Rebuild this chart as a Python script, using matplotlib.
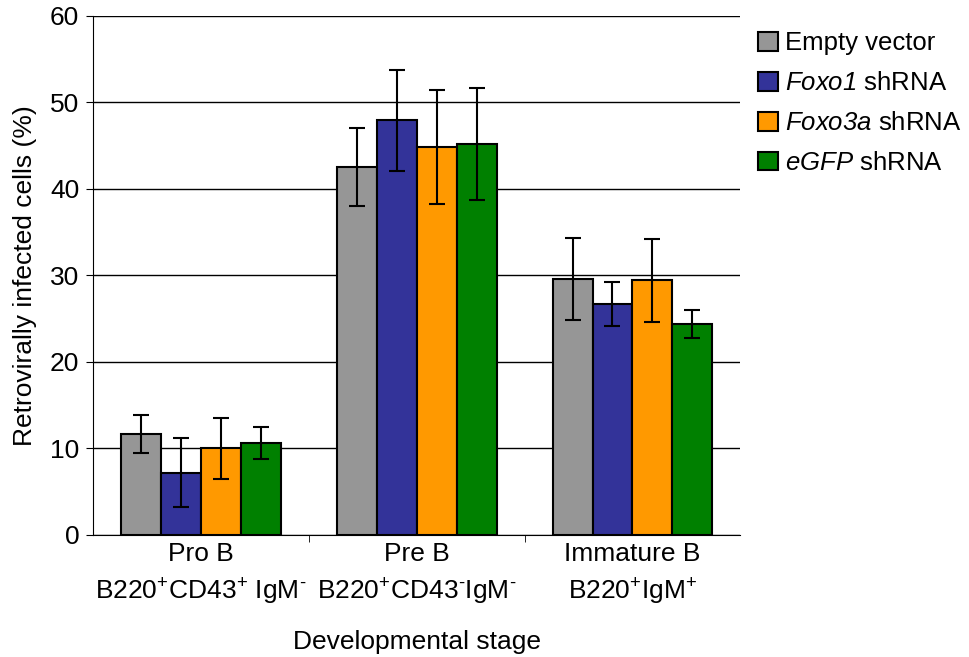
import numpy as np
import matplotlib
matplotlib.use("Agg")
import matplotlib.pyplot as plt

plt.rcParams['font.family'] = ['Liberation Sans', 'DejaVu Sans']
plt.rcParams['mathtext.fontset'] = 'custom'
plt.rcParams['mathtext.rm'] = 'Liberation Sans'
plt.rcParams['mathtext.sf'] = 'Liberation Sans:italic'

# data
sup_p = "$\\mathregular{^{+}}$"
sup_m = "$\\mathregular{^{\u2010}}$"
stages = ["Pro B\nB220" + sup_p + "CD43" + sup_p + " IgM" + sup_m,
          "Pre B\nB220" + sup_p + "CD43" + sup_m + "IgM" + sup_m,
          "Immature B\nB220" + sup_p + "IgM" + sup_p]
series = ["Empty vector", "$\\mathsf{Foxo1}$ shRNA", "$\\mathsf{Foxo3a}$ shRNA", "$\\mathsf{eGFP}$ shRNA"]
empty_vec = [11.7, 42.5, 29.6]
empty_err = [2.2, 4.5, 4.75]
foxo1 = [7.2, 47.9, 26.7]
foxo1_err = [4.0, 5.85, 2.55]
foxo3a = [10.0, 44.8, 29.4]
foxo3a_err = [3.5, 6.6, 4.8]
egfp = [10.6, 45.2, 24.4]
egfp_err = [1.85, 6.5, 1.6]
colors = ["#969696", "#333399", "#FF9900", "#008000"]

values = [empty_vec, foxo1, foxo3a, egfp]
errors = [empty_err, foxo1_err, foxo3a_err, egfp_err]

fig = plt.figure(figsize=(9.69, 6.57), dpi=100)
ax = fig.add_axes([0.096, 0.186, 0.668, 0.79])

x = np.arange(len(stages))
w = 0.185
for i, (vals, errs) in enumerate(zip(values, errors)):
    pos = x + (i - 1.5) * w
    ax.bar(pos, vals, width=w, color=colors[i], edgecolor='black', linewidth=1.5,
           label=series[i], zorder=3)
    ax.errorbar(pos, vals, yerr=errs, fmt='none', ecolor='black', elinewidth=1.5,
                capsize=6, capthick=1.5, zorder=4)

ax.set_xlim(-0.5, 2.5)
ax.set_ylim(0, 60)
ax.set_yticks(range(0, 61, 10))
ax.yaxis.grid(True, color='black', linewidth=1)
ax.set_axisbelow(True)
ax.spines['top'].set_visible(False)
ax.spines['right'].set_visible(False)

ax.set_xticks(x)
ax.set_xticklabels(stages, fontsize=19, linespacing=1.5)
ax.tick_params(axis='x', length=0, pad=5)
ax.set_xticks([0.5, 1.5], minor=True)
ax.tick_params(axis='x', which='minor', length=5, direction='out')
ax.tick_params(axis='y', labelsize=19, length=5, direction='out', pad=5)

ax.set_ylabel("Retrovirally infected cells (%)", fontsize=19, labelpad=9)
ax.set_xlabel("Developmental stage", fontsize=19, labelpad=16)

leg = ax.legend(loc='upper left', bbox_to_anchor=(1.012, 0.99), frameon=False,
                fontsize=18.5, handlelength=0.75, handleheight=0.75, handletextpad=0.3,
                labelspacing=0.62, borderaxespad=0.0)

fig.savefig("out.png", dpi=100)
